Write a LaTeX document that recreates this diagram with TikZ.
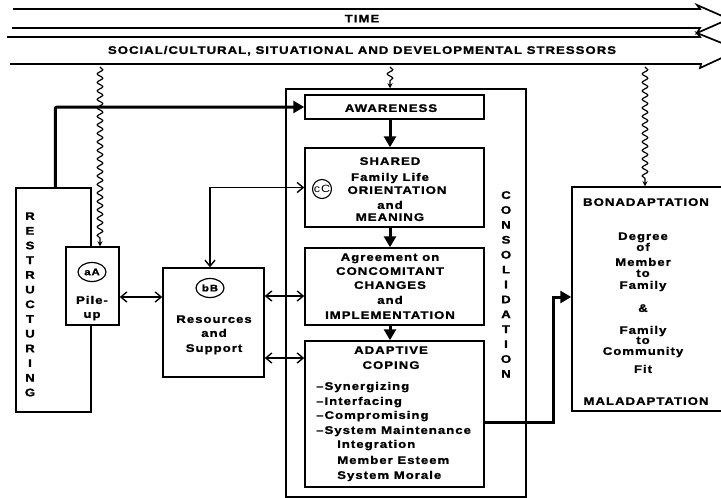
\documentclass[tikz,border=0pt]{standalone}
\usepackage{fontspec}
\setmainfont{Liberation Sans}[FakeStretch=1.2,LetterSpace=9,BoldFeatures={FakeBold=1.2}]
\usetikzlibrary{arrows.meta,decorations.pathmorphing,shapes.geometric,calc}

\tikzset{
  box/.style={draw, line width=1.5pt, fill=white, inner sep=0pt, rectangle},
  lbl/.style={inner sep=0pt, text height=7.8pt, text depth=0pt,
              font=\bfseries\fontsize{11}{13}\selectfont},
  thickarr/.style={line width=3pt, -{Triangle[length=11pt,width=12pt]}},
  thinarr/.style={line width=1.4pt,
              {Straight Barb[length=6pt,width=10pt]}-{Straight Barb[length=6pt,width=10pt]}},
  squig/.style={line width=1.2pt, decorate,
              decoration={snake,amplitude=2.8pt,segment length=8.5pt,post length=4pt},
              -{Stealth[length=5pt,width=5pt]}},
  band/.style={line width=1.7pt, line join=miter},
  tag/.style={draw, ellipse, line width=1.2pt, inner sep=0pt,
              minimum width=28pt, minimum height=19pt,
              font=\bfseries\fontsize{9.5}{10}\selectfont},
}

\begin{document}
\begin{tikzpicture}[x=1pt,y=-1pt]
\useasboundingbox (0,0) rectangle (721,498);

% time and stressor bands
\draw[band] (13,9) -- (700,9) -- (697,5) -- (729,19) -- (697,33) -- (700,28) -- (12,28);
\draw[band] (7,37) -- (700,37) -- (697,33) -- (739,50) -- (700,68) -- (701,64) -- (10,64);
\node[lbl] (time) at (362,18.5) {TIME};
\node[lbl] (stress) at (362,50) {SOCIAL/CULTURAL, SITUATIONAL AND DEVELOPMENTAL STRESSORS};
\coordinate (s1) at (100,67);
\coordinate (s2) at (390,67);
\coordinate (s3) at (645,67);

% restructuring column and pile-up
\node[box, minimum width=75pt, minimum height=224pt] (restr) at (53.5,300) {};
\foreach \c [count=\i from 0] in {R,E,S,T,R,U,C,T,U,R,I,N,G}
  \node[lbl] (rs\i) at (30,{216+14.7*\i}) {\c};
\node[box, minimum width=53pt, minimum height=78pt] (pile) at (92.5,286) {};
\node[tag] (tagA) at (92,272) {aA};
\node[lbl] (pile1) at (92,300) {Pile-};
\node[lbl] (pile2) at (92,314) {up};

% resources
\node[box, minimum width=101pt, minimum height=109pt] (res) at (213.5,322.5) {};
\node[tag] (tagB) at (210,288) {bB};
\node[lbl] (res1) at (214,319) {Resources};
\node[lbl] (res2) at (214,333) {and};
\node[lbl] (res3) at (214,348) {Support};

% consolidation frame
\node[box, minimum width=240pt, minimum height=408pt] (cons) at (406,293) {};
\foreach \c [count=\i from 0] in {C,O,N,S,O,L,I,D,A,T,I,O,N}
  \node[lbl] (cs\i) at (506,{195+14.9*\i}) {\c};

% inner stages
\node[box, minimum width=179pt, minimum height=24pt] (aware) at (394.5,107) {};
\node[lbl] (aw1) at (391,108) {AWARENESS};

\node[box, minimum width=179pt, minimum height=79pt] (shared) at (394.5,187.5) {};
\node[lbl] (sh1) at (390,161) {SHARED};
\node[lbl] (sh2) at (390,177) {Family Life};
\node[lbl] (sh3) at (397,190) {ORIENTATION};
\node[lbl] (sh4) at (390,205) {and};
\node[lbl] (sh5) at (390,217) {MEANING};
\node[draw, circle, line width=1.1pt, inner sep=0pt, minimum size=19pt,
      font=\fontsize{10.5}{11}\selectfont] (tagC) at (322,189) {cC};

\node[box, minimum width=179pt, minimum height=77pt] (agree) at (394.5,286.5) {};
\node[lbl] (ag1) at (390,257) {Agreement on};
\node[lbl] (ag2) at (390,271) {CONCOMITANT};
\node[lbl] (ag3) at (390,285) {CHANGES};
\node[lbl] (ag4) at (390,300) {and};
\node[lbl] (ag5) at (390,315) {IMPLEMENTATION};

\node[box, minimum width=179pt, minimum height=146pt] (adapt) at (394.5,414) {};
\node[lbl] (ad1) at (391,350) {ADAPTIVE};
\node[lbl] (ad2) at (391,365) {COPING};
\node[lbl, anchor=west] (ad3) at (316,386) {–Synergizing};
\node[lbl, anchor=west] (ad4) at (316,401) {–Interfacing};
\node[lbl, anchor=west] (ad5) at (316,415) {–Compromising};
\node[lbl, anchor=west] (ad6) at (316,430) {–System Maintenance};
\node[lbl, anchor=west] (ad7) at (337,444) {Integration};
\node[lbl, anchor=west] (ad8) at (337,460) {Member Esteem};
\node[lbl, anchor=west] (ad9) at (337,475) {System Morale};

% outcome
\node[box, minimum width=168pt, minimum height=224pt] (bona) at (656,299) {};
\node[lbl] (bn1) at (646,202) {BONADAPTATION};
\node[lbl] (bn2) at (643,236) {Degree};
\node[lbl] (bn3) at (643,247) {of};
\node[lbl] (bn4) at (643,262) {Member};
\node[lbl] (bn5) at (643,273) {to};
\node[lbl] (bn6) at (643,285) {Family};
\node[lbl] (bn7) at (643,308) {\&};
\node[lbl] (bn8) at (643,330) {Family};
\node[lbl] (bn9) at (643,340) {to};
\node[lbl] (bn10) at (643,351) {Community};
\node[lbl] (bn11) at (643,369) {Fit};
\node[lbl] (bn12) at (646,401) {MALADAPTATION};

% stressor inputs
\draw[squig] (s1) -- (s1 |- pile.north);
\draw[squig] (s2) -- (s2 |- cons.north);
\draw[squig] (s3) -- (s3 |- bona.north);

% main flow
\draw[thickarr, rounded corners=2pt] ($(restr.north west)+(40,0)$) |- (aware.west);
\draw[thickarr] ([xshift=-4.5pt]aware.south) -- ([xshift=-4.5pt]shared.north);
\draw[thickarr] ([xshift=-4.5pt]shared.south) -- ([xshift=-4.5pt]agree.north);
\draw[thickarr] ([xshift=-4.5pt]agree.south) -- ([xshift=-4.5pt]adapt.north);
\draw[thickarr] (adapt.east |- 0,422) -- ++(69,0) |- (bona.west |- 0,297);

% exchanges with resources
\draw[thinarr] (pile.east |- 0,297) -- (res.west |- 0,297);
\draw[thinarr] (res.east |- 0,296) -- (agree.west |- 0,296);
\draw[thinarr] (res.east |- 0,358) -- (adapt.west |- 0,358);
\draw[thinarr] ([xshift=-3.5pt]res.north) |- (shared.west);
\end{tikzpicture}
\end{document}
